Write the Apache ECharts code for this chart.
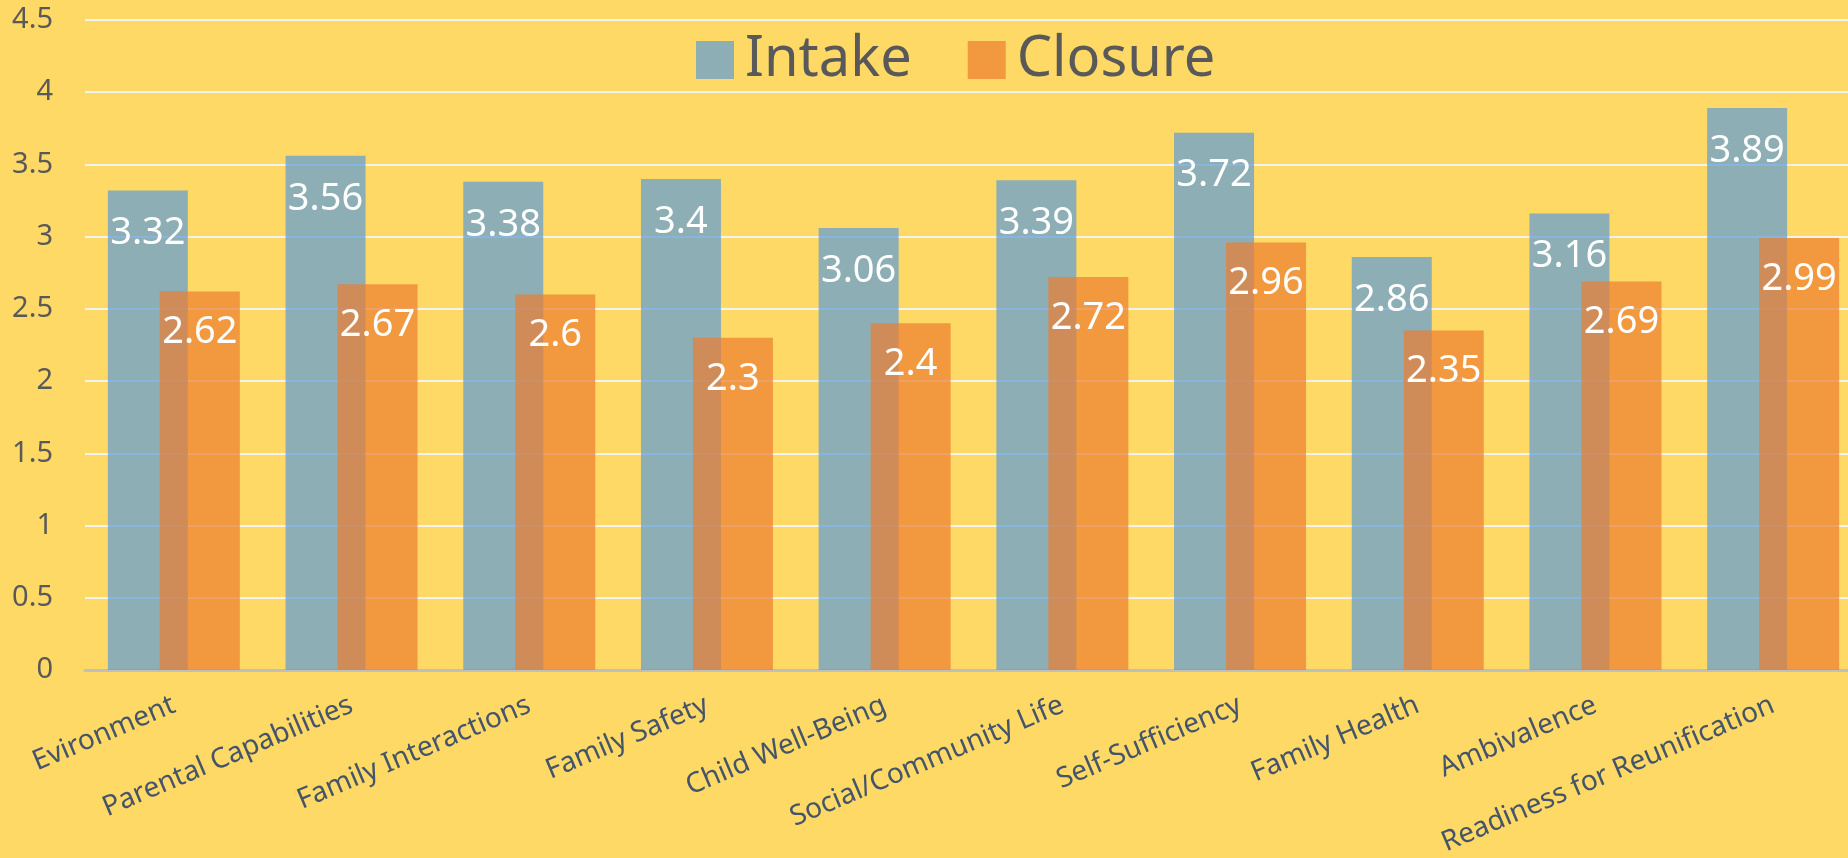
<!DOCTYPE html>
<html>
<head>
<meta charset="utf-8">
<title>Intake vs Closure</title>
<script src="https://cdn.jsdelivr.net/npm/echarts@6/dist/echarts.min.js"></script>
<style>
    html, body { margin: 0; padding: 0; background: #FED966; }
    #chart { width: 1848px; height: 858px; }
</style>
</head>
<body>
<div id="chart"></div>
<script>
    var categories = ['Evironment', 'Parental Capabilities', 'Family Interactions', 'Family Safety',
        'Child Well-Being', 'Social/Community Life', 'Self-Sufficiency', 'Family Health',
        'Ambivalence', 'Readiness for Reunification'];
    var intakeValues = [3.32, 3.56, 3.38, 3.4, 3.06, 3.39, 3.72, 2.86, 3.16, 3.89];
    var closureValues = [2.62, 2.67, 2.6, 2.3, 2.4, 2.72, 2.96, 2.35, 2.69, 2.99];
    var seriesNames = ['Intake', 'Closure'];

    var font = '"Noto Sans", "Open Sans", sans-serif';

    var myChart = echarts.init(document.getElementById('chart'));
    var option = {
        backgroundColor: '#FED966',
        textStyle: { fontFamily: font },
        legend: {
            left: 691,
            top: 25,
            itemWidth: 38,
            itemHeight: 38,
            itemGap: 56,
            icon: 'rect',
            textStyle: {
                fontSize: 56,
                lineHeight: 60,
                color: '#595959',
                padding: [0, 0, 0, 6]
            }
        },
        grid: {
            left: 85,
            right: -14,
            top: 20,
            bottom: 188,
            // plot runs past the right edge in the original, so don't squeeze it back in
            outerBoundsMode: 'none'
        },
        xAxis: {
            type: 'category',
            data: categories,
            axisTick: { show: false },
            axisLine: { lineStyle: { color: '#BFBFBF', width: 3 } },
            axisLabel: {
                interval: 0,
                rotate: 23,
                margin: 34,
                fontSize: 28,
                color: '#44546A'
            }
        },
        yAxis: {
            type: 'value',
            min: 0,
            max: 4.5,
            interval: 0.5,
            axisLine: { show: false },
            axisTick: { show: false },
            axisLabel: {
                margin: 32,
                fontSize: 29,
                color: '#595959'
            },
            splitLine: { lineStyle: { color: '#F2F2F2', width: 2 } }
        },
        series: [
            {
                name: seriesNames[0],
                type: 'bar',
                barWidth: 80,
                barGap: '-35%',
                itemStyle: { color: 'rgba(91,155,213,0.7)' },
                label: {
                    show: true,
                    position: 'insideTop',
                    distance: 24,
                    fontSize: 38,
                    color: '#FFFFFF'
                },
                data: intakeValues
            },
            {
                name: seriesNames[1],
                type: 'bar',
                barWidth: 80,
                barGap: '-35%',
                itemStyle: { color: 'rgba(237,125,49,0.7)' },
                label: {
                    show: true,
                    position: 'insideTop',
                    distance: 22,
                    fontSize: 38,
                    color: '#FFFFFF'
                },
                data: closureValues
            }
        ]
    };
    myChart.setOption(option);
</script>
</body>
</html>
